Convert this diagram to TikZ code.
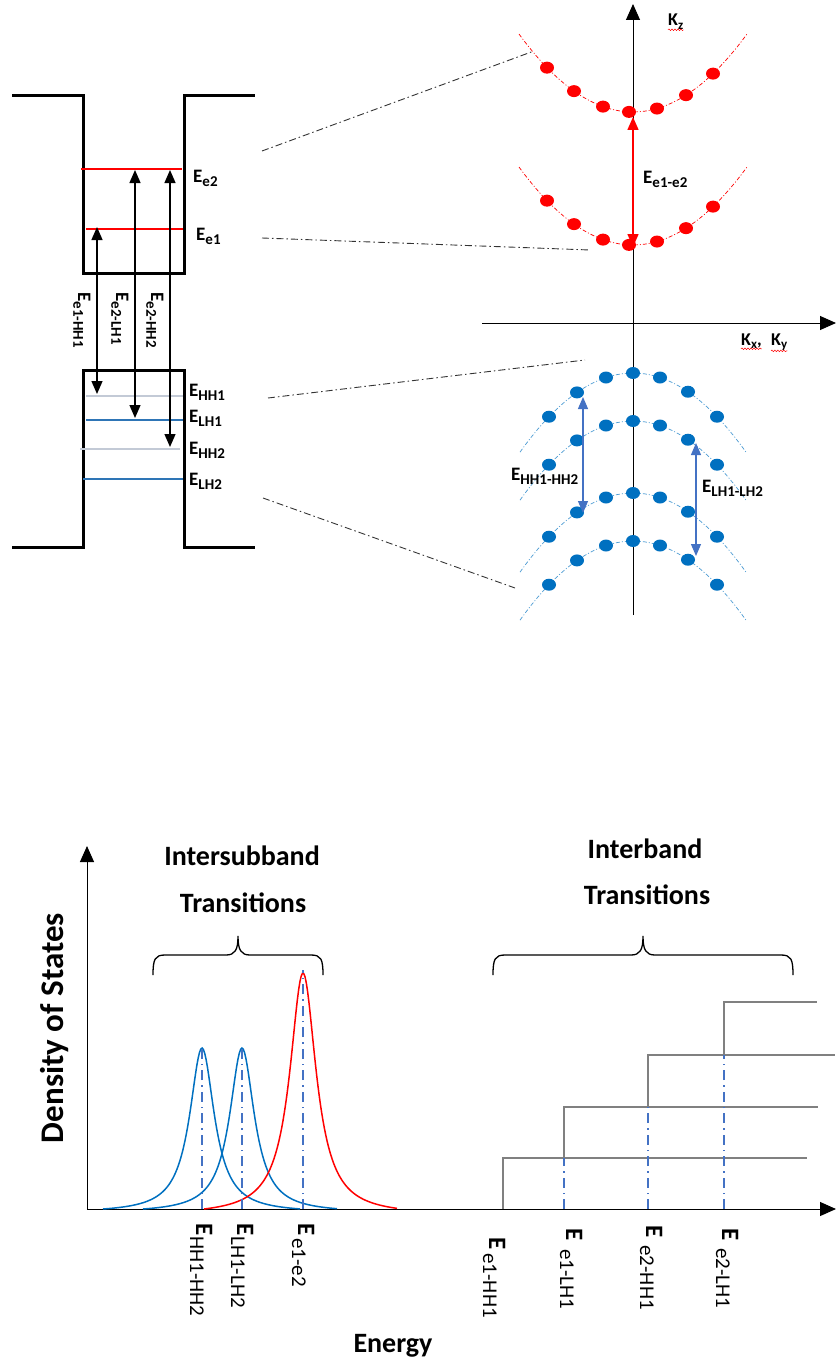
\documentclass[tikz,border=0pt]{standalone}
\usepackage{fontspec}
\setmainfont{Carlito}
\usepackage{xcolor}
\usepackage{tikz}
\usetikzlibrary{arrows.meta}
\usetikzlibrary{decorations.pathmorphing}

\definecolor{elecred}{HTML}{FF0000}
\definecolor{holeblue}{HTML}{0070C0}
\definecolor{arrowblue}{HTML}{4472C4}
\definecolor{hhgray}{HTML}{C3CAD6}
\definecolor{lhblue}{HTML}{2E75B6}
\definecolor{stepgray}{HTML}{808080}

\newcommand{\Elev}[1]{E\raisebox{-0.25em}{\fontsize{15}{15}\selectfont #1}}
\newcommand{\Eaxis}[2][1pt]{{\bfseries E}\hspace{#1}\raisebox{-6pt}{\fontsize{21}{21}\selectfont #2}}

\begin{document}
\begin{tikzpicture}[x=1pt, y=-1pt,
                    well/.style = { line width=3pt, black, line join=miter },
                    elevel/.style = { line width=1.4pt, elecred },
                    hlevel/.style = { line width=1.8pt, hhgray },
                    llevel/.style = { line width=1.4pt, lhblue },
                    trans/.style = { line width=1.3pt, black, >={Triangle[width=11pt,length=13pt]}, <-> },
                    etrans/.style = { line width=1.5pt, elecred, >={Triangle[width=11pt,length=13pt]}, <-> },
                    htrans/.style = { line width=1.2pt, arrowblue, >={Triangle[width=10pt,length=12pt]}, <-> },
                    zoomline/.style = { line width=0.9pt, black!80, dash pattern=on 7pt off 3pt on 1.5pt off 3pt },
                    band/.style = { line width=0.7pt, dash pattern=on 4pt off 2pt on 1pt off 2pt },
                    axisline/.style = { line width=1pt, black, -{Triangle[width=14pt,length=16pt]} },
                    lab/.style = { font=\fontsize{19}{19}\selectfont\bfseries, inner sep=0pt, anchor=base west },
                    klab/.style = { font=\fontsize{18}{18}\selectfont\bfseries, inner sep=0pt, anchor=base west },
                    spell/.style = { elecred, line width=0.5pt, decorate, decoration={snake, amplitude=0.8pt, segment length=3pt} },
                    lorentz/.style = { line width=1.5pt },
                    peakline/.style = { line width=1.3pt, arrowblue, dash pattern=on 10pt off 5pt on 1.5pt off 5pt },
                    stepline/.style = { line width=1.8pt, stepgray },
                    curly/.style = { line width=1.3pt, black },
                    title/.style = { font=\fontsize{28}{28}\selectfont\bfseries, inner sep=0pt, anchor=base },
                    elab/.style = { font=\fontsize{25}{25}\selectfont, inner sep=0pt, anchor=base west, rotate=-90 },
                   ]
    \useasboundingbox (0,0) rectangle (836,1362);

    % quantum well
    \draw[well] (12,96) -- (83,96) -- (83,273) -- (184,273) -- (184,96) -- (255,96);
    \draw[well] (12,547) -- (83,547) -- (83,370) -- (184,370) -- (184,547) -- (255,547);

    \draw[elevel] (81,169) -- (182,169);
    \draw[elevel] (86,229) -- (183,229);
    \draw[hlevel] (86,396) -- (183,396);
    \draw[llevel] (86,420) -- (183,420);
    \draw[hlevel] (80,449) -- (180,449);
    \draw[llevel] (83,479) -- (183,479);

    \node[lab] (Ee2) at (193,182) {\Elev{e2}};
    \node[lab] (Ee1) at (196,240) {\Elev{e1}};
    \node[lab] (EHH1) at (189,396) {\Elev{HH1}};
    \node[lab] (ELH1) at (189,422) {\Elev{LH1}};
    \node[lab] (EHH2) at (189,454) {\Elev{HH2}};
    \node[lab] (ELH2) at (189,485) {\Elev{LH2}};

    \coordinate (ArrAtop) at (97,227);
    \coordinate (ArrAbot) at (97,394);
    \coordinate (ArrBtop) at (135,170);
    \coordinate (ArrBbot) at (135,418);
    \coordinate (ArrCtop) at (170,170);
    \coordinate (ArrCbot) at (170,447);
    \draw[trans] (ArrAtop) -- (ArrAbot);
    \draw[trans] (ArrBtop) -- (ArrBbot);
    \draw[trans] (ArrCtop) -- (ArrCbot);

    \node[lab, rotate=-90] (Te1HH1) at (78,292) {\Elev{e1-HH1}};
    \node[lab, rotate=-90] (Te2LH1) at (116,292) {\Elev{e2-LH1}};
    \node[lab, rotate=-90] (Te2HH2) at (151,292) {\Elev{e2-HH2}};

    % zoom lines
    \coordinate (ZoomAl) at (262,151);
    \coordinate (ZoomAr) at (534,51);
    \coordinate (ZoomBl) at (262,238);
    \coordinate (ZoomBr) at (590,250);
    \coordinate (ZoomCl) at (268,398);
    \coordinate (ZoomCr) at (585,360);
    \coordinate (ZoomDl) at (263,498);
    \coordinate (ZoomDr) at (515,588);
    \draw[zoomline] (ZoomAl) -- (ZoomAr);
    \draw[zoomline] (ZoomBl) -- (ZoomBr);
    \draw[zoomline] (ZoomCl) -- (ZoomCr);
    \draw[zoomline] (ZoomDl) -- (ZoomDr);

    % band diagram
    \coordinate (KzBot) at (633,615);
    \coordinate (KzTop) at (633,4);
    \coordinate (KxLeft) at (482,323);
    \coordinate (KxRight) at (836,323);
    \draw[axisline] (KzBot) -- (KzTop);
    \draw[axisline] (KxLeft) -- (KxRight);

    \foreach \v in {112,245} {
        \draw[band, elecred] plot[domain=-114:114, samples=41] ({633+\x},{\v-0.006*(\x)*(\x)});
        \foreach \d in {-86,-59,-30,-4,24,53,80}
            \fill[elecred] ({633+\d},{\v-0.006*(\d)*(\d)}) ellipse (7 and 6);
    }
    \foreach \v in {373,421,493,541} {
        \draw[band, holeblue!70] plot[domain=-113:113, samples=41] ({633+\x},{\v+0.0062*(\x)*(\x)});
        \foreach \d in {-84,-56,-27,0,27,55,84}
            \fill[holeblue] ({633+\d},{\v+0.0062*(\d)*(\d)}) ellipse (7 and 6);
    }

    \coordinate (E1Min) at (633,247);
    \coordinate (E2Min) at (633,117);
    \coordinate (HHtop) at (583,397);
    \coordinate (HHbot) at (583,513);
    \coordinate (LHtop) at (696,443);
    \coordinate (LHbot) at (696,556);
    \draw[etrans] (E1Min) -- (E2Min);
    \draw[htrans] (HHtop) -- (HHbot);
    \draw[htrans] (LHtop) -- (LHbot);

    \node[lab] (Ee1e2) at (643,183) {\Elev{e1-e2}};
    \node[lab] (EHH12) at (511,480) {\Elev{HH1-HH2}};
    \node[lab] (ELH12) at (702,492) {\Elev{LH1-LH2}};

    \node[klab] (Kz) at (668,26) {K\raisebox{-0.2em}{\fontsize{13}{13}\selectfont z}};
    \node[klab] (Kx) at (741,345) {K\raisebox{-0.2em}{\fontsize{13}{13}\selectfont x},};
    \node[klab] (Ky) at (771,345) {K\raisebox{-0.2em}{\fontsize{13}{13}\selectfont y}};
    \draw[spell] (Kz.south west) -- (Kz.south east);
    \draw[spell] (Kx.south west) -- (Kx.south east);
    \draw[spell] (Ky.south west) -- (Ky.south east);

    % density of states
    \coordinate (Origin) at (87,1209);
    \coordinate (DosTop) at (87,846);
    \coordinate (EnEnd) at (836,1209);
    \draw[axisline] (Origin) -- (DosTop);
    \draw[axisline] (Origin) -- (EnEnd);

    \draw[lorentz, holeblue] plot[domain=103:300, samples=150] (\x,{1209-161*(1/(1+((\x-202)/15)^2)-0.02244)/0.97756});
    \draw[lorentz, holeblue] plot[domain=143:337, samples=150] (\x,{1209-161*(1/(1+((\x-242)/15)^2)-0.02244)/0.97756});
    \draw[lorentz, elecred] plot[domain=204:397, samples=150] (\x,{1209-236*(1/(1+((\x-303)/16)^2)-0.02545)/0.97455});

    \draw[peakline] (202,1209) -- (202,1048);
    \draw[peakline] (242,1209) -- (242,1048);
    \draw[peakline] (303,1209) -- (303,970);

    \draw[stepline] (503,1209) -- (503,1158) -- (807,1158);
    \draw[stepline] (564,1158) -- (564,1107) -- (818,1107);
    \draw[stepline] (648,1107) -- (648,1055) -- (835,1055);
    \draw[stepline] (724,1055) -- (724,1002) -- (817,1002);
    \draw[peakline] (564,1209) -- (564,1158);
    \draw[peakline] (648,1209) -- (648,1107);
    \draw[peakline] (724,1209) -- (724,1055);

    \draw[curly] (153,975) .. controls (153,959) and (155,955) .. (165,955) -- (226,955)
        .. controls (235,955) and (238,950) .. (238,936) .. controls (238,950) and (241,955) .. (250,955)
        -- (311,955) .. controls (321,955) and (323,959) .. (323,975);
    \draw[curly] (493,975) .. controls (493,959) and (495,955) .. (505,955) -- (631,955)
        .. controls (640,955) and (643,950) .. (643,936) .. controls (643,950) and (646,955) .. (655,955)
        -- (781,955) .. controls (791,955) and (793,959) .. (793,975);

    \node[title] (IntraA) at (242,865) {Intersubband};
    \node[title] (IntraB) at (243,912) {Transitions};
    \node[title] (InterA) at (645,858) {Interband};
    \node[title] (InterB) at (647,904) {Transitions};
    \node[title, font=\fontsize{33}{33}\selectfont\bfseries, rotate=90] (Dos) at (63,1028) {Density of States};
    \node[title] (Energy) at (393,1352) {Energy};

    \node[elab] (PkHH) at (196,1223) {\Eaxis{HH1-HH2}};
    \node[elab] (PkLH) at (237,1223) {\Eaxis{LH1-LH2}};
    \node[elab] (Pke) at (298,1223) {\Eaxis[3pt]{e1-e2}};
    \node[elab] (StA) at (489,1237) {\Eaxis[4pt]{e1-HH1}};
    \node[elab] (StB) at (566,1228) {\Eaxis[9pt]{e1-LH1}};
    \node[elab] (StC) at (646,1225) {\Eaxis[8pt]{e2-HH1}};
    \node[elab] (StD) at (722,1228) {\Eaxis[8pt]{e2-LH1}};
\end{tikzpicture}
\end{document}
